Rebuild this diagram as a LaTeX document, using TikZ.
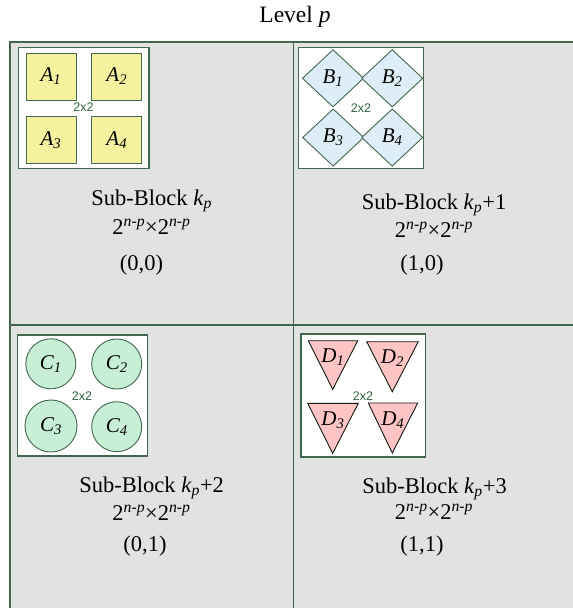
\documentclass[tikz,border=0pt]{standalone}
\usepackage{fontspec}
\setmainfont{Liberation Serif}
\newfontfamily\lsans{Liberation Sans}
\usetikzlibrary{shapes.geometric}
\definecolor{bordergreen}{HTML}{43664E}
\definecolor{cellgray}{HTML}{E2E2E2}
\definecolor{yelfill}{HTML}{F5F19E}
\definecolor{bluefill}{HTML}{DDEEF8}
\definecolor{greenfill}{HTML}{C6EFD5}
\definecolor{pinkfill}{HTML}{FFC4C4}
\definecolor{labgreen}{HTML}{2F6443}
\tikzset{
  cellline/.style={draw=bordergreen, line width=1.4pt},
  innerbox/.style={draw=bordergreen, line width=1.1pt, fill=white},
  sqA/.style={draw=bordergreen, line width=0.9pt, fill=yelfill, inner sep=0pt, outer sep=0pt, minimum width=50pt, minimum height=47pt},
  dmB/.style={diamond, draw=bordergreen, line width=0.9pt, fill=bluefill, inner sep=0pt, outer sep=0pt, minimum width=61pt, minimum height=57pt},
  ccC/.style={circle, draw=bordergreen, line width=0.9pt, fill=greenfill, inner sep=0pt, outer sep=0pt, minimum size=50pt},
  trD/.style={draw=black!75!bordergreen, line width=0.9pt, fill=pinkfill},
  shlab/.style={font=\fontsize{21}{24}\selectfont\itshape, inner sep=0pt},
  twobytwo/.style={font=\lsans\fontsize{12.5}{14}\selectfont, text=labgreen, inner sep=0pt},
  celltext/.style={font=\fontsize{22.5}{26}\selectfont, anchor=base, inner sep=0pt},
  titletext/.style={font=\fontsize{23.5}{28}\selectfont, anchor=base, inner sep=0pt}
}
\newcommand{\blocksize}{2\textsuperscript{\textit{n-p}}×2\textsuperscript{\textit{n-p}}}
\newcommand{\kp}{\textit{k}\textsubscript{\textit{p}}}
\begin{document}
\begin{tikzpicture}[x=1pt, y=-1pt]
\useasboundingbox (0,0) rectangle (573,608);
\clip (0,0) rectangle (573,608);
% cells
\fill[cellgray] (10,42) rectangle (580,615);
\draw[cellline] (10,615) -- (10,42) -- (580,42);
\draw[cellline] (293.3,42) -- (293.3,615);
\draw[cellline] (10,325) -- (580,325);
% title
\node[titletext] (title) at (295,22) {Level \textit{p}};

% ---- cell A
\draw[innerbox] (18.3,47.7) rectangle (149,168.7);
\node[sqA] (a1) at (51,76.5) {};
\node[sqA] (a2) at (116.8,76.5) {};
\node[sqA] (a3) at (51,140.3) {};
\node[sqA] (a4) at (116.8,140.3) {};
\node[shlab] (la1) at (a1) {A\textsubscript{1}};
\node[shlab] (la2) at (a2) {A\textsubscript{2}};
\node[shlab] (la3) at (a3) {A\textsubscript{3}};
\node[shlab] (la4) at (a4) {A\textsubscript{4}};
\node[twobytwo] (a22) at (83.5,107.5) {2x2};
\node[celltext] (at1) at (151.7,205.7) {Sub-Block \kp};
\node[celltext] (at2) at (151.5,234) {\blocksize};
\node[celltext] (at3) at (141.5,270) {(0,0)};

% ---- cell B
\draw[innerbox] (298.3,47.3) rectangle (423.3,168.3);
\node[dmB] (b1) at (333,78.3) {};
\node[dmB] (b2) at (392.2,78.3) {};
\node[dmB] (b3) at (333.2,137.5) {};
\node[dmB] (b4) at (392.2,137.5) {};
\node[shlab] (lb1) at (b1) {B\textsubscript{1}};
\node[shlab] (lb2) at (b2) {B\textsubscript{2}};
\node[shlab] (lb3) at (b3) {B\textsubscript{3}};
\node[shlab] (lb4) at (b4) {B\textsubscript{4}};
\node[twobytwo] (b22) at (361,108.5) {2x2};
\node[celltext] (bt1) at (434,209.3) {Sub-Block \kp+1};
\node[celltext] (bt2) at (434,237.3) {\blocksize};
\node[celltext] (bt3) at (422,270) {(1,0)};

% ---- cell C
\draw[innerbox] (17.3,335) rectangle (147.7,456);
\node[ccC] (c1) at (50.8,363.8) {};
\node[ccC] (c2) at (116.7,364) {};
\node[ccC, minimum size=52pt] (c3) at (51,426) {};
\node[ccC] (c4) at (116.7,426.7) {};
\node[shlab] (lc1) at (c1) {C\textsubscript{1}};
\node[shlab] (lc2) at (c2) {C\textsubscript{2}};
\node[shlab] (lc3) at (c3) {C\textsubscript{3}};
\node[shlab] (lc4) at (c4) {C\textsubscript{4}};
\node[twobytwo] (c22) at (82,396.5) {2x2};
\node[celltext] (ct1) at (151.7,492.7) {Sub-Block \kp+2};
\node[celltext] (ct2) at (151.5,520) {\blocksize};
\node[celltext] (ct3) at (145,551) {(0,1)};

% ---- cell D
\draw[innerbox] (301,334) rectangle (425.7,457);
\draw[trD] (308.3,340.7) -- (357.7,340.7) -- (332.7,389.3) -- cycle;
\draw[trD] (366.7,341.7) -- (418.3,341.7) -- (392.3,391.7) -- cycle;
\draw[trD] (307.7,403.3) -- (358.3,403.3) -- (332.7,453.3) -- cycle;
\draw[trD] (368.3,403) -- (417.7,403) -- (392.3,453) -- cycle;
\node[shlab] (ld1) at (332.9,357.5) {D\textsubscript{1}};
\node[shlab] (ld2) at (392.4,358.5) {D\textsubscript{2}};
\node[shlab] (ld3) at (332.9,420.3) {D\textsubscript{3}};
\node[shlab] (ld4) at (392.8,420) {D\textsubscript{4}};
\node[twobytwo] (d22) at (363,396.5) {2x2};
\node[celltext] (dt1) at (434.5,493) {Sub-Block \kp+3};
\node[celltext] (dt2) at (434,519) {\blocksize};
\node[celltext] (dt3) at (422,551) {(1,1)};
\end{tikzpicture}
\end{document}
